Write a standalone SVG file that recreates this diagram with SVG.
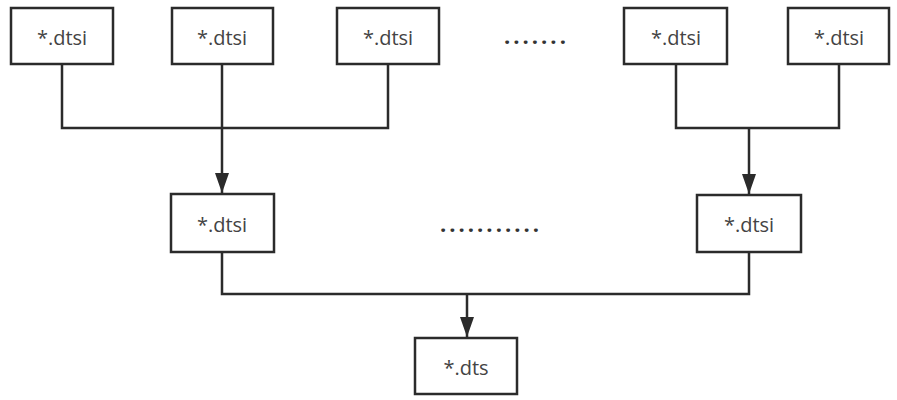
<svg xmlns="http://www.w3.org/2000/svg" width="897" height="400" viewBox="0 0 897 400">
<defs>
<style>
.box{fill:#fff;stroke:#2b2b2b;stroke-width:2.5}
.lbl{font-family:"Open Sans","Noto Sans",sans-serif;font-size:20px;fill:#444;text-anchor:middle;dominant-baseline:central}
.ln{fill:none;stroke:#2b2b2b;stroke-width:2.5}
.dots{font-family:"Open Sans","Noto Sans",sans-serif;font-size:22px;font-weight:bold;fill:#333;letter-spacing:3px}
</style>
<marker id="ah2" viewBox="0 0 20 14" refX="20" refY="7" markerWidth="20" markerHeight="14" markerUnits="userSpaceOnUse" orient="auto">
<path d="M0,0 L20,7 L0,14 Z" fill="#2b2b2b"/>
</marker>
</defs>
<rect width="897" height="400" fill="#fff"/>
<g id="connectors">
<path class="ln" d="M62,64 V128 H388 V64"/>
<path class="ln" d="M222,64 V193" marker-end="url(#ah2)"/>
<path class="ln" d="M676,64 V128 H839 V64"/>
<path class="ln" d="M749,128 V194" marker-end="url(#ah2)"/>
<path class="ln" d="M222,252 V294 H749 V252"/>
<path class="ln" d="M467,294 V337" marker-end="url(#ah2)"/>
</g>
<g id="n1"><rect class="box" x="11" y="8" width="102" height="56"/><text class="lbl" x="62" y="37">*.dtsi</text></g>
<g id="n2"><rect class="box" x="172" y="8" width="101" height="56"/><text class="lbl" x="222" y="37">*.dtsi</text></g>
<g id="n3"><rect class="box" x="337" y="8" width="102" height="56"/><text class="lbl" x="388" y="37">*.dtsi</text></g>
<g id="dots1"><text class="dots" x="504" y="44">.......</text></g>
<g id="n4"><rect class="box" x="624" y="8" width="103" height="56"/><text class="lbl" x="676" y="37">*.dtsi</text></g>
<g id="n5"><rect class="box" x="788" y="8" width="101" height="56"/><text class="lbl" x="839" y="37">*.dtsi</text></g>
<g id="n6"><rect class="box" x="171" y="194" width="103" height="58"/><text class="lbl" x="222" y="224">*.dtsi</text></g>
<g id="dots2"><text class="dots" x="440" y="232">...........</text></g>
<g id="n7"><rect class="box" x="697" y="195" width="104" height="57"/><text class="lbl" x="749" y="224">*.dtsi</text></g>
<g id="n8"><rect class="box" x="415" y="338" width="102" height="56"/><text class="lbl" x="466" y="367">*.dts</text></g>
</svg>
